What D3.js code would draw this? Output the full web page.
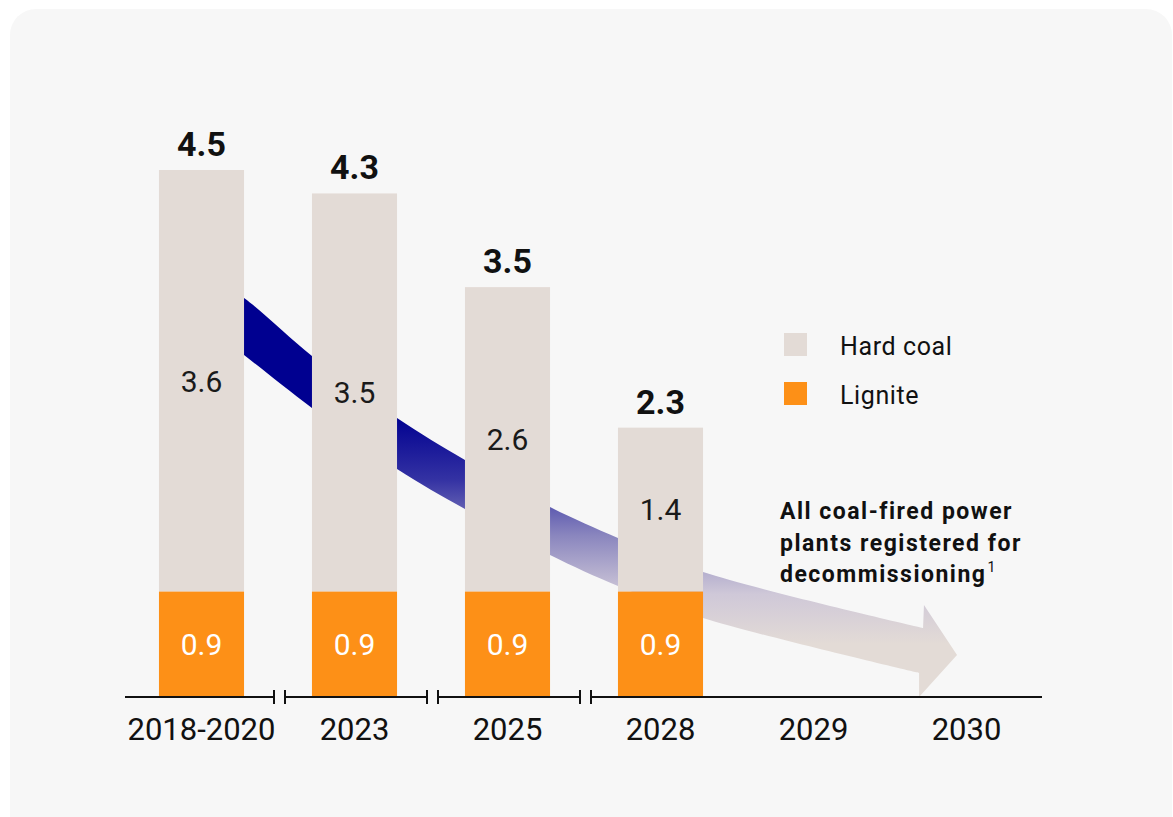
<!DOCTYPE html>
<html>
<head>
<meta charset="utf-8">
<script src="https://cdn.jsdelivr.net/npm/d3@7"></script>
<style>
  html, body { margin: 0; padding: 0; background: #ffffff; }
  svg { display: block; }
</style>
</head>
<body>
<svg id="chart" width="1173" height="817"></svg>
<script>
// ---- data ----
const categories = ["2018-2020", "2023", "2025", "2028", "2029", "2030"];
const ligniteValues = [0.9, 0.9, 0.9, 0.9];
const hardCoalValues = [3.6, 3.5, 2.6, 1.4];
const totalValues = [4.5, 4.3, 3.5, 2.3];
const seriesNames = ["Hard coal", "Lignite"];
const annotationLines = ["All coal-fired power", "plants registered for", "decommissioning"];
const annotationNote = "1";
// axis breaks after these category indices
const axisBreaks = [0, 1, 2];
// decorative arrow outline, in (category position, value) units
const arrowTop = [[0.10, 3.55], [0.278, 3.407], [0.722, 2.912], [1.278, 2.382], [1.722, 2.024], [2.278, 1.622], [2.722, 1.358], [3.278, 1.067], [4.716, 0.589]];
const arrowBottom = [[0.10, 3.10], [0.278, 2.920], [0.722, 2.468], [1.278, 1.947], [1.722, 1.605], [2.278, 1.213], [2.722, 0.948], [3.278, 0.675], [4.690, 0.205]];
const arrowHead = [[4.722, 0.786], [4.938, 0.359], [4.690, 0.0]];

// ---- styles ----
const colors = { hard: "#e3dbd6", lignite: "#fd9017", text: "#111111", bg: "#f7f7f7" };
const font = "Roboto, 'DejaVu Sans', sans-serif";

const svg = d3.select("#chart");

// card background
svg.append("rect").attr("x", 10).attr("y", 9).attr("width", 1162).attr("height", 840)
  .attr("rx", 26).attr("fill", colors.bg);

// ---- scales ----
const x = d3.scaleBand().domain(categories).range([125, 1043]).paddingInner(0.444).paddingOuter(0.222);
const step = x.step();
const xPos = d3.scaleLinear().domain([0, 1]).range([x(categories[0]) + x.bandwidth() / 2, x(categories[0]) + x.bandwidth() / 2 + step]);
const y = d3.scaleLinear().domain([0, 4.5]).range([697, 170]);

// ---- gradient for arrow ----
const defs = svg.append("defs");
const grad = defs.append("linearGradient").attr("id", "arrowGrad")
  .attr("gradientUnits", "userSpaceOnUse")
  .attr("x1", 0).attr("x2", 0).attr("y1", y(2.4)).attr("y2", y(0.45));
[[0, "#000090"], [0.28, "#3432a3"], [0.52, "#8985be"], [0.78, "#cfc8d8"], [1, "#e3dbd6"]].forEach(([o, c]) =>
  grad.append("stop").attr("offset", o).attr("stop-color", c));

// ---- arrow ----
const lineGen = d3.line().x(d => xPos(d[0])).y(d => y(d[1])).curve(d3.curveCatmullRom);
const topPath = lineGen(arrowTop);
const headPath = arrowHead.map(d => "L" + xPos(d[0]) + "," + y(d[1])).join("");
const bottomPath = lineGen(arrowBottom.slice().reverse()).replace(/^M/, "L");
svg.append("path").attr("d", topPath + headPath + bottomPath + "Z").attr("fill", "url(#arrowGrad)");

// ---- bars ----
const barG = svg.append("g");
ligniteValues.forEach((v, i) => {
  const cat = categories[i];
  const hc = hardCoalValues[i];
  const total = totalValues[i];
  barG.append("rect").attr("x", x(cat)).attr("width", x.bandwidth())
    .attr("y", y(total)).attr("height", y(v) - y(total)).attr("fill", colors.hard);
  barG.append("rect").attr("x", x(cat)).attr("width", x.bandwidth())
    .attr("y", y(v)).attr("height", y(0) - y(v)).attr("fill", colors.lignite);
  const cx = x(cat) + x.bandwidth() / 2;
  barG.append("text").attr("x", cx).attr("y", (y(total) + y(v)) / 2).attr("dy", "0.36em")
    .attr("text-anchor", "middle").attr("font-family", font).attr("font-size", 30).attr("font-weight", 400)
    .attr("fill", "#1a1a1a").text(hc.toFixed(1));
  barG.append("text").attr("x", cx).attr("y", (y(v) + y(0)) / 2).attr("dy", "0.36em")
    .attr("text-anchor", "middle").attr("font-family", font).attr("font-size", 30).attr("font-weight", 400)
    .attr("fill", "#ffffff").text(v.toFixed(1));
  barG.append("text").attr("x", cx).attr("y", y(total) - 14)
    .attr("text-anchor", "middle").attr("font-family", font).attr("font-size", 34).attr("font-weight", 700)
    .attr("fill", colors.text).text(total.toFixed(1));
});

// ---- axis with breaks ----
const axisY = y(0);
const bounds = axisBreaks.map(i => x(categories[i]) + x.bandwidth() + (step - x.bandwidth()) / 2 + 1.5);
const segs = [];
let start = x.range()[0];
bounds.forEach(b => { segs.push([start, b - 5.5, false, true]); start = b + 5.5; });
segs.push([start, x.range()[1] - 1, true, false]);
const axisG = svg.append("g").attr("stroke", colors.text).attr("stroke-width", 2);
segs.forEach((s, k) => {
  axisG.append("line").attr("x1", s[0]).attr("x2", s[1]).attr("y1", axisY).attr("y2", axisY);
  if (k > 0) axisG.append("line").attr("x1", s[0]).attr("x2", s[0]).attr("y1", axisY - 7).attr("y2", axisY + 7);
  if (s[3]) axisG.append("line").attr("x1", s[1]).attr("x2", s[1]).attr("y1", axisY - 7).attr("y2", axisY + 7);
});
svg.append("g").selectAll("text").data(categories).join("text")
  .attr("x", d => x(d) + x.bandwidth() / 2).attr("y", 740)
  .attr("text-anchor", "middle").attr("font-family", font).attr("font-size", 31).attr("font-weight", 400)
  .attr("fill", colors.text).text(d => d);

// ---- legend ----
const legend = svg.append("g");
[colors.hard, colors.lignite].forEach((c, i) => {
  legend.append("rect").attr("x", 784).attr("y", 333 + i * 49).attr("width", 23).attr("height", 23).attr("fill", c);
  legend.append("text").attr("x", 840).attr("y", 355 + i * 49)
    .attr("font-family", font).attr("font-size", 25).attr("fill", colors.text).attr("letter-spacing", 0.6)
    .text(seriesNames[i]);
});

// ---- annotation ----
const ann = svg.append("text").attr("font-family", font).attr("font-size", 23).attr("font-weight", 700)
  .attr("fill", colors.text).attr("letter-spacing", 1.5);
annotationLines.forEach((t, i) => {
  ann.append("tspan").attr("x", 780).attr("y", 519 + i * 31.5).text(t);
});
ann.append("tspan").attr("font-size", 14).attr("font-weight", 400).attr("letter-spacing", 0).attr("dx", 1).attr("dy", -10).text(annotationNote);
</script>
</body>
</html>
